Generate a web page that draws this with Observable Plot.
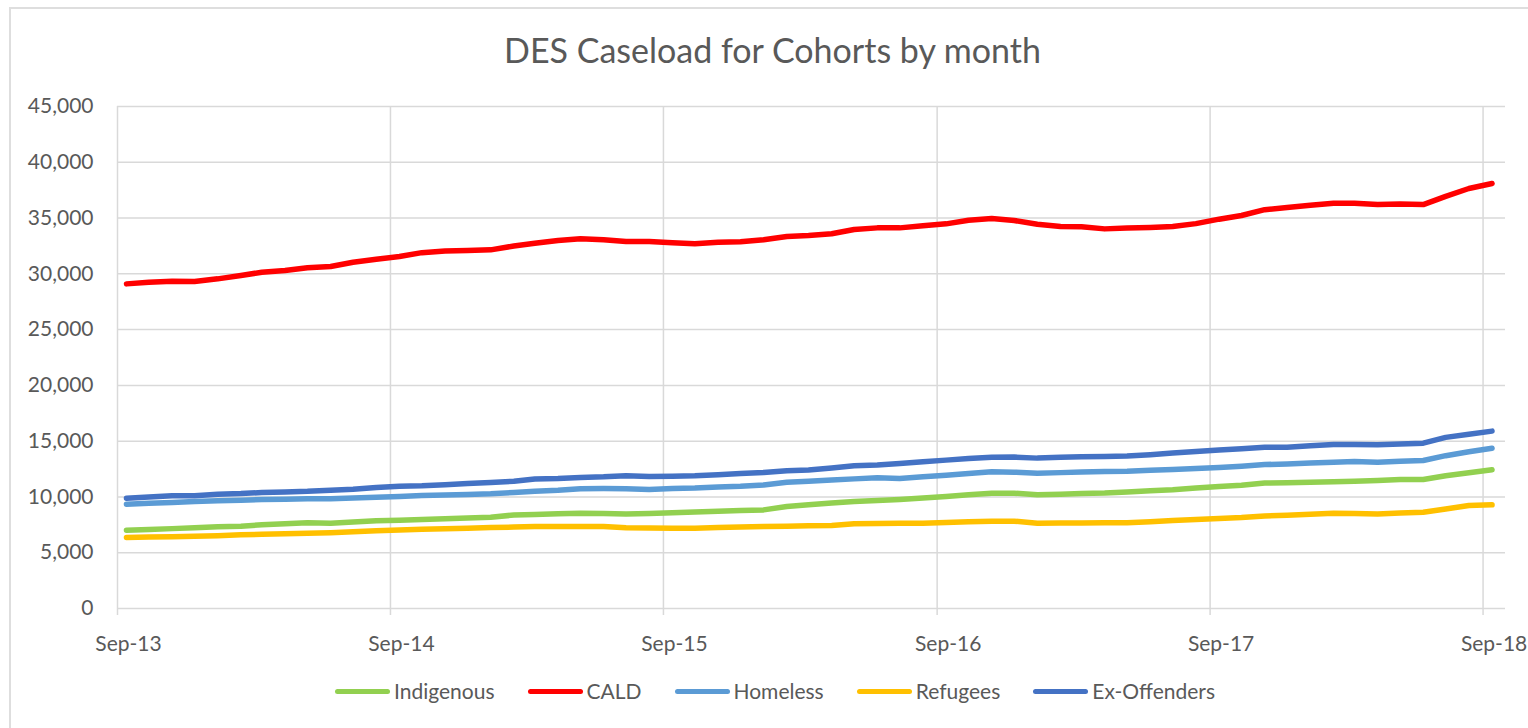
<!DOCTYPE html>
<html>
<head>
<meta charset="utf-8">
<script src="https://cdn.jsdelivr.net/npm/d3@7"></script>
<script src="https://cdn.jsdelivr.net/npm/@observablehq/plot@0.6"></script>
<style>
  html, body { margin: 0; padding: 0; background: #fff; overflow: hidden; }
  #wrap { position: relative; width: 1528px; height: 728px; font-family: Lato, "DejaVu Sans", sans-serif; color: #595959; }
  #frame { position: absolute; left: 9px; top: 7px; width: 1600px; height: 800px; border: 2px solid #dedede; box-sizing: border-box; }
  #title { position: absolute; left: 0; width: 1545px; top: 28px; text-align: center; font-size: 34px; line-height: 44px; color: #595959; }
  #legend { position: absolute; left: 0; width: 1550px; top: 678px; display: flex; justify-content: center; gap: 33px; font-size: 21px; line-height: 26px; }
  .item { display: flex; align-items: center; gap: 4px; }
  .sw { width: 55px; height: 5px; border-radius: 3px; }
  #chart { position: absolute; left: 0; top: 0; }
</style>
</head>
<body>
<div id="wrap">
  <div id="frame"></div>
  <div id="chart"></div>
  <div id="title">DES Caseload for Cohorts by month</div>
  <div id="legend"></div>
</div>
<script>
// Months (monthly data, Sep 2013 – Sep 2018)
const months = [
  "2013-09","2013-10","2013-11","2013-12",
  "2014-01","2014-02","2014-03","2014-04","2014-05","2014-06","2014-07","2014-08","2014-09","2014-10","2014-11","2014-12",
  "2015-01","2015-02","2015-03","2015-04","2015-05","2015-06","2015-07","2015-08","2015-09","2015-10","2015-11","2015-12",
  "2016-01","2016-02","2016-03","2016-04","2016-05","2016-06","2016-07","2016-08","2016-09","2016-10","2016-11","2016-12",
  "2017-01","2017-02","2017-03","2017-04","2017-05","2017-06","2017-07","2017-08","2017-09","2017-10","2017-11","2017-12",
  "2018-01","2018-02","2018-03","2018-04","2018-05","2018-06","2018-07","2018-08","2018-09"
];

const seriesNames = ["Indigenous", "CALD", "Homeless", "Refugees", "Ex-Offenders"];
const seriesColors = ["#92D050", "#FF0000", "#5B9BD5", "#FFC000", "#4472C4"];

const indigenous = [7020,7090,7160,7230,7330,7380,7500,7600,7680,7650,7750,7870,7920,7980,8050,8110,8180,8380,8420,8490,8540,8520,8480,8520,8580,8660,8720,8780,8840,9140,9290,9450,9590,9680,9770,9900,10040,10200,10330,10340,10190,10250,10300,10350,10450,10550,10640,10800,10940,11050,11250,11270,11320,11370,11410,11480,11560,11560,11900,12170,12430];
const cald = [29100,29250,29340,29310,29550,29850,30150,30300,30540,30660,31040,31300,31550,31900,32050,32100,32150,32500,32750,32990,33140,33050,32900,32900,32780,32690,32840,32870,33050,33350,33440,33590,33970,34120,34120,34300,34480,34800,34950,34780,34450,34250,34230,34030,34100,34150,34240,34500,34900,35230,35750,35950,36150,36330,36330,36210,36270,36210,36950,37650,38100];
const homeless = [9350,9430,9510,9590,9650,9700,9760,9800,9830,9830,9900,9970,10050,10120,10180,10230,10280,10400,10520,10600,10730,10750,10730,10670,10750,10800,10900,10950,11080,11320,11410,11520,11620,11710,11650,11800,11950,12100,12250,12220,12130,12180,12240,12280,12310,12390,12460,12550,12650,12760,12900,12960,13040,13120,13180,13120,13200,13270,13700,14050,14370];
const refugees = [6360,6400,6440,6480,6530,6600,6650,6700,6750,6800,6870,6960,7030,7100,7150,7200,7250,7300,7350,7350,7350,7350,7230,7220,7200,7200,7250,7300,7350,7380,7420,7450,7590,7620,7640,7650,7700,7780,7830,7830,7650,7660,7670,7680,7680,7780,7890,7980,8060,8150,8300,8360,8450,8540,8520,8480,8550,8630,8920,9230,9290];
const exOffenders = [9890,10000,10100,10100,10250,10300,10400,10450,10500,10600,10700,10850,10950,11000,11100,11200,11300,11400,11600,11650,11750,11800,11900,11830,11850,11900,12000,12100,12200,12350,12420,12600,12800,12870,13000,13150,13300,13450,13560,13570,13480,13550,13600,13630,13660,13780,13930,14080,14200,14310,14450,14460,14580,14700,14700,14670,14750,14820,15340,15620,15900];

const yTicks = [0,5000,10000,15000,20000,25000,30000,35000,40000,45000];
const xTickDates = ["2013-09-01","2014-09-01","2015-09-01","2016-09-01","2017-09-01","2018-09-01"];
const xTickLabels = ["Sep-13","Sep-14","Sep-15","Sep-16","Sep-17","Sep-18"];

const seriesValues = [indigenous, cald, homeless, refugees, exOffenders];
const parseMonth = d3.utcParse("%Y-%m");
const rows = [];
seriesNames.forEach((name, s) => {
  seriesValues[s].forEach((v, i) => {
    rows.push({series: name, date: d3.utcDay.offset(parseMonth(months[i]), 12), value: v});
  });
});
const tickDates = xTickDates.map(d => new Date(d + "T00:00:00Z"));

const chart = Plot.plot({
  width: 1528,
  height: 728,
  marginLeft: 117,
  marginRight: 23,
  marginTop: 106,
  marginBottom: 120,
  style: {fontFamily: "Lato, 'DejaVu Sans', sans-serif", fontSize: "21px", color: "#595959", background: "transparent", overflow: "visible"},
  x: {type: "utc", domain: [new Date("2013-09-01T00:00:00Z"), new Date("2018-10-01T00:00:00Z")]},
  y: {domain: [0, 45000]},
  color: {domain: seriesNames, range: seriesColors},
  marks: [
    Plot.ruleY(yTicks, {stroke: "#d9d9d9", strokeWidth: 1.5}),
    Plot.ruleX(tickDates, {stroke: "#d9d9d9", strokeWidth: 1.5}),
    Plot.axisY(yTicks, {tickSize: 0, tickPadding: 24, tickFormat: d3.format(","), label: null}),
    Plot.tickX(tickDates, {x: d => d, stroke: "#d9d9d9", strokeWidth: 1.5, insetTop: 502, insetBottom: -7}),
    Plot.axisX(tickDates, {tickSize: 0, tickPadding: 28, dx: 11,
      tickFormat: d => xTickLabels[tickDates.findIndex(t => +t === +d)], label: null}),
    Plot.line(rows, {x: "date", y: "value", z: "series", stroke: "series", strokeWidth: 5.5,
      strokeLinecap: "round", strokeLinejoin: "round", curve: "linear"})
  ]
});
document.getElementById("chart").appendChild(chart);

const legend = document.getElementById("legend");
seriesNames.forEach((name, i) => {
  const item = document.createElement("div");
  item.className = "item";
  const sw = document.createElement("span");
  sw.className = "sw";
  sw.style.background = seriesColors[i];
  const label = document.createElement("span");
  label.textContent = name;
  item.appendChild(sw);
  item.appendChild(label);
  legend.appendChild(item);
});
</script>
</body>
</html>
